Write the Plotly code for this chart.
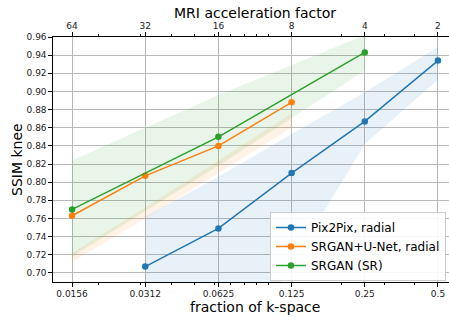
import plotly.graph_objects as go
import math

# ---------------- data ----------------
fractions = [0.015625, 0.03125, 0.0625, 0.125, 0.25, 0.5]
fraction_labels = ["0.0156", "0.0312", "0.0625", "0.125", "0.25", "0.5"]
accel_labels = ["64", "32", "16", "8", "4", "2"]
minor_vals = [0.02, 0.03, 0.04, 0.05, 0.06, 0.07, 0.08, 0.09, 0.1, 0.2, 0.3, 0.4, 0.5]

pix_x = [0.03125, 0.0625, 0.125, 0.25, 0.5]
pix_y = [0.707, 0.749, 0.810, 0.867, 0.934]
pix_lo = [0.50, 0.58, 0.709, 0.842, 0.913]
pix_hi = [0.762, 0.806, 0.853, 0.899, 0.949]

unet_x = [0.015625, 0.03125, 0.0625, 0.125]
unet_y = [0.763, 0.807, 0.840, 0.888]
unet_lo = [0.712, 0.760, 0.810, 0.860]
unet_hi = [0.722, 0.772, 0.824, 0.876]

sr_x = [0.015625, 0.0625, 0.25]
sr_y = [0.770, 0.850, 0.943]
sr_lo = [0.718, 0.818, 0.923]
sr_hi = [0.824, 0.896, 0.962]

names = ["Pix2Pix, radial", "SRGAN+U-Net, radial", "SRGAN (SR)"]
colors = ["#1f77b4", "#ff7f0e", "#2ca02c"]
fills = ["rgba(31,119,180,0.10)", "rgba(255,127,14,0.10)", "rgba(44,160,44,0.10)"]

# ---------------- layout geometry ----------------
W, H = 449, 320
L, R, T, B = 53, 0, 37, 38
pw, ph = W - L - R, H - T - B
oct_px = 73.0
x_left_log2 = -6 - (72 - 53) / oct_px
x_right_log2 = -1 + (449 - 438) / oct_px
xr = [x_left_log2 * math.log10(2), x_right_log2 * math.log10(2)]
yr = [0.69, 0.96]

def px(xp):
    return (xp - L) / pw

def py(yp):
    return (H - B - yp) / ph

FONT = "DejaVu Sans"

fig = go.Figure()

series = [(pix_x, pix_y, pix_lo, pix_hi), (unet_x, unet_y, unet_lo, unet_hi), (sr_x, sr_y, sr_lo, sr_hi)]

for (xs, ys, lo, hi), fc in zip(series, fills):
    fig.add_trace(go.Scatter(x=xs, y=lo, mode="lines", line=dict(width=0), showlegend=False, hoverinfo="skip"))
    fig.add_trace(go.Scatter(x=xs, y=hi, mode="lines", line=dict(width=0), fill="tonexty",
                             fillcolor=fc, showlegend=False, hoverinfo="skip"))

for (xs, ys, lo, hi), nm, c in zip(series, names, colors):
    fig.add_trace(go.Scatter(x=xs, y=ys, mode="lines+markers", name=nm,
                             line=dict(color=c, width=1.5), marker=dict(color=c, size=6.5)))

# invisible trace to attach top axis
fig.add_trace(go.Scatter(x=fractions, y=[None] * len(fractions), xaxis="x2", yaxis="y",
                         mode="markers", showlegend=False, hoverinfo="skip"))

tickfont = dict(family=FONT, size=9, color="#222")

fig.update_layout(
    width=W, height=H,
    margin=dict(l=L, r=R, t=T, b=B, pad=0),
    paper_bgcolor="white", plot_bgcolor="white",
    font=dict(family=FONT, color="black"),
    xaxis=dict(type="log", range=xr, tickmode="array", tickvals=fractions, ticktext=fraction_labels,
               ticks="outside", ticklen=3.5, tickwidth=1, tickcolor="black",
               showline=True, linecolor="black", linewidth=1.2,
               showgrid=True, gridcolor="#b8b8b8", gridwidth=1, zeroline=False,
               tickfont=tickfont,
               minor=dict(tickmode="array", tickvals=minor_vals, ticks="outside", ticklen=2,
                          tickcolor="black", showgrid=False)),
    xaxis2=dict(type="log", range=xr, overlaying="x", side="top", anchor="y",
                tickmode="array", tickvals=fractions, ticktext=accel_labels,
                ticks="outside", ticklen=3.5, tickwidth=1, tickcolor="black",
                showline=True, linecolor="black", linewidth=1.2, showgrid=False, zeroline=False,
                tickfont=tickfont,
                minor=dict(tickmode="array", tickvals=minor_vals, ticks="outside", ticklen=2,
                           tickcolor="black", showgrid=False)),
    yaxis=dict(range=yr, tick0=0.70, dtick=0.02, tickformat=".2f",
               ticks="outside", ticklen=3.5, tickwidth=1, tickcolor="black",
               showline=True, linecolor="black", linewidth=1.2,
               showgrid=True, gridcolor="#b8b8b8", gridwidth=1, zeroline=False,
               tickfont=tickfont),
    legend=dict(x=px(270), y=py(212), xanchor="left", yanchor="top", traceorder="normal",
                bgcolor="rgba(255,255,255,0.9)", bordercolor="#cccccc", borderwidth=1,
                font=dict(family=FONT, size=12, color="black"), tracegroupgap=0),
    annotations=[
        dict(text="SSIM knee", xref="paper", yref="paper", x=px(17), y=py(160), textangle=-90,
             showarrow=False, xanchor="center", yanchor="middle", font=dict(family=FONT, size=14)),
        dict(text="fraction of k-space", xref="paper", yref="paper", x=px(255), y=py(307),
             showarrow=False, xanchor="center", yanchor="middle", font=dict(family=FONT, size=14)),
        dict(text="MRI acceleration factor", xref="paper", yref="paper", x=px(255), y=py(13),
             showarrow=False, xanchor="center", yanchor="middle", font=dict(family=FONT, size=14)),
    ],
)

fig.write_html("out.html")
